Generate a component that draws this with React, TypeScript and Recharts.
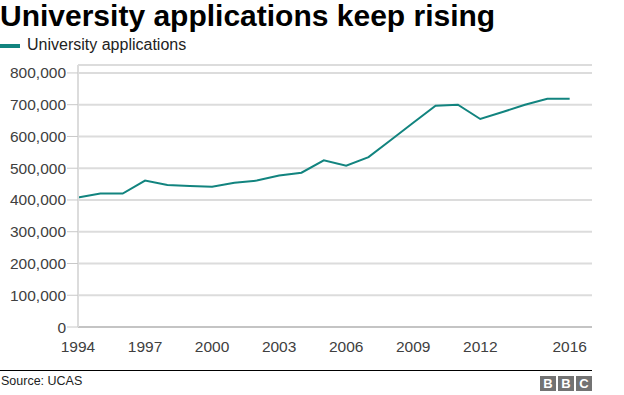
import React from "react";
import { LineChart, Line, XAxis, YAxis, CartesianGrid } from "recharts";

const years = [1994, 1995, 1996, 1997, 1998, 1999, 2000, 2001, 2002, 2003, 2004, 2005, 2006, 2007, 2008, 2009, 2010, 2011, 2012, 2013, 2014, 2015, 2016];
const applications = [408000, 420000, 420000, 461000, 447000, 444000, 442000, 454000, 461000, 477000, 486000, 525000, 508000, 535000, 589000, 643000, 697000, 700000, 655000, 677000, 700000, 719000, 719000];
const xTicks = [1994, 1997, 2000, 2003, 2006, 2009, 2012, 2016];
const yTicks = [0, 100000, 200000, 300000, 400000, 500000, 600000, 700000, 800000];

const data = years.map((y, i) => ({ year: y, value: applications[i] }));

const FONT = '"Liberation Sans", Arial, Helvetica, sans-serif';
const TEAL = "#12847f";

export default function App() {
  return (
    <div style={{ position: "relative", width: 624, height: 395, fontFamily: FONT, background: "#fff", overflow: "hidden" }}>
      <style>{`body{margin:0;}`}</style>
      <div style={{ position: "absolute", left: 0, top: 1, fontSize: 30, lineHeight: "30px", fontWeight: 700, color: "#000", whiteSpace: "nowrap" }}>
        University applications keep rising
      </div>
      <div style={{ position: "absolute", left: 0, top: 44, width: 20, height: 4, background: TEAL }} />
      <div style={{ position: "absolute", left: 27, top: 37, fontSize: 16, lineHeight: "16px", color: "#222", whiteSpace: "nowrap" }}>
        University applications
      </div>
      <div style={{ position: "absolute", left: 0, top: 0 }}>
        <LineChart width={624} height={395} data={data} margin={{ top: 65, right: 32, bottom: 38, left: 0 }}>
          <CartesianGrid vertical={false} stroke="#dcdcdc" strokeWidth={2} />
          <XAxis
            dataKey="year"
            type="number"
            domain={[1994, 2017]}
            ticks={xTicks}
            tickLine={false}
            axisLine={{ stroke: "#c4c4c4", strokeWidth: 2 }}
            tickMargin={8}
            height={30}
            tick={{ fill: "#404040", fontSize: 15.5, fontFamily: FONT }}
            interval={0}
          />
          <YAxis
            type="number"
            domain={[0, 825000]}
            ticks={yTicks}
            width={78}
            tickSize={11}
            tickMargin={1}
            tickLine={{ stroke: "#c8c8c8" }}
            axisLine={{ stroke: "#dcdcdc", strokeWidth: 2 }}
            tick={{ fill: "#404040", fontSize: 15.5, fontFamily: FONT }}
            tickFormatter={(v: number) => v.toLocaleString("en-US")}
            interval={0}
          />
          <Line type="linear" dataKey="value" stroke={TEAL} strokeWidth={2} dot={false} isAnimationActive={false} />
        </LineChart>
      </div>
      <div style={{ position: "absolute", left: 0, top: 370, width: 592, height: 1, background: "#000" }} />
      <div style={{ position: "absolute", left: 1, top: 375, fontSize: 12.5, lineHeight: "13px", color: "#222", whiteSpace: "nowrap" }}>
        Source: UCAS
      </div>
      {["B", "B", "C"].map((c, i) => (
        <div key={i} style={{ position: "absolute", left: 540 + i * 18, top: 376, width: 16, height: 15, background: "#737373", color: "#fff", fontSize: 13, lineHeight: "15px", fontWeight: 700, textAlign: "center" }}>
          {c}
        </div>
      ))}
    </div>
  );
}
